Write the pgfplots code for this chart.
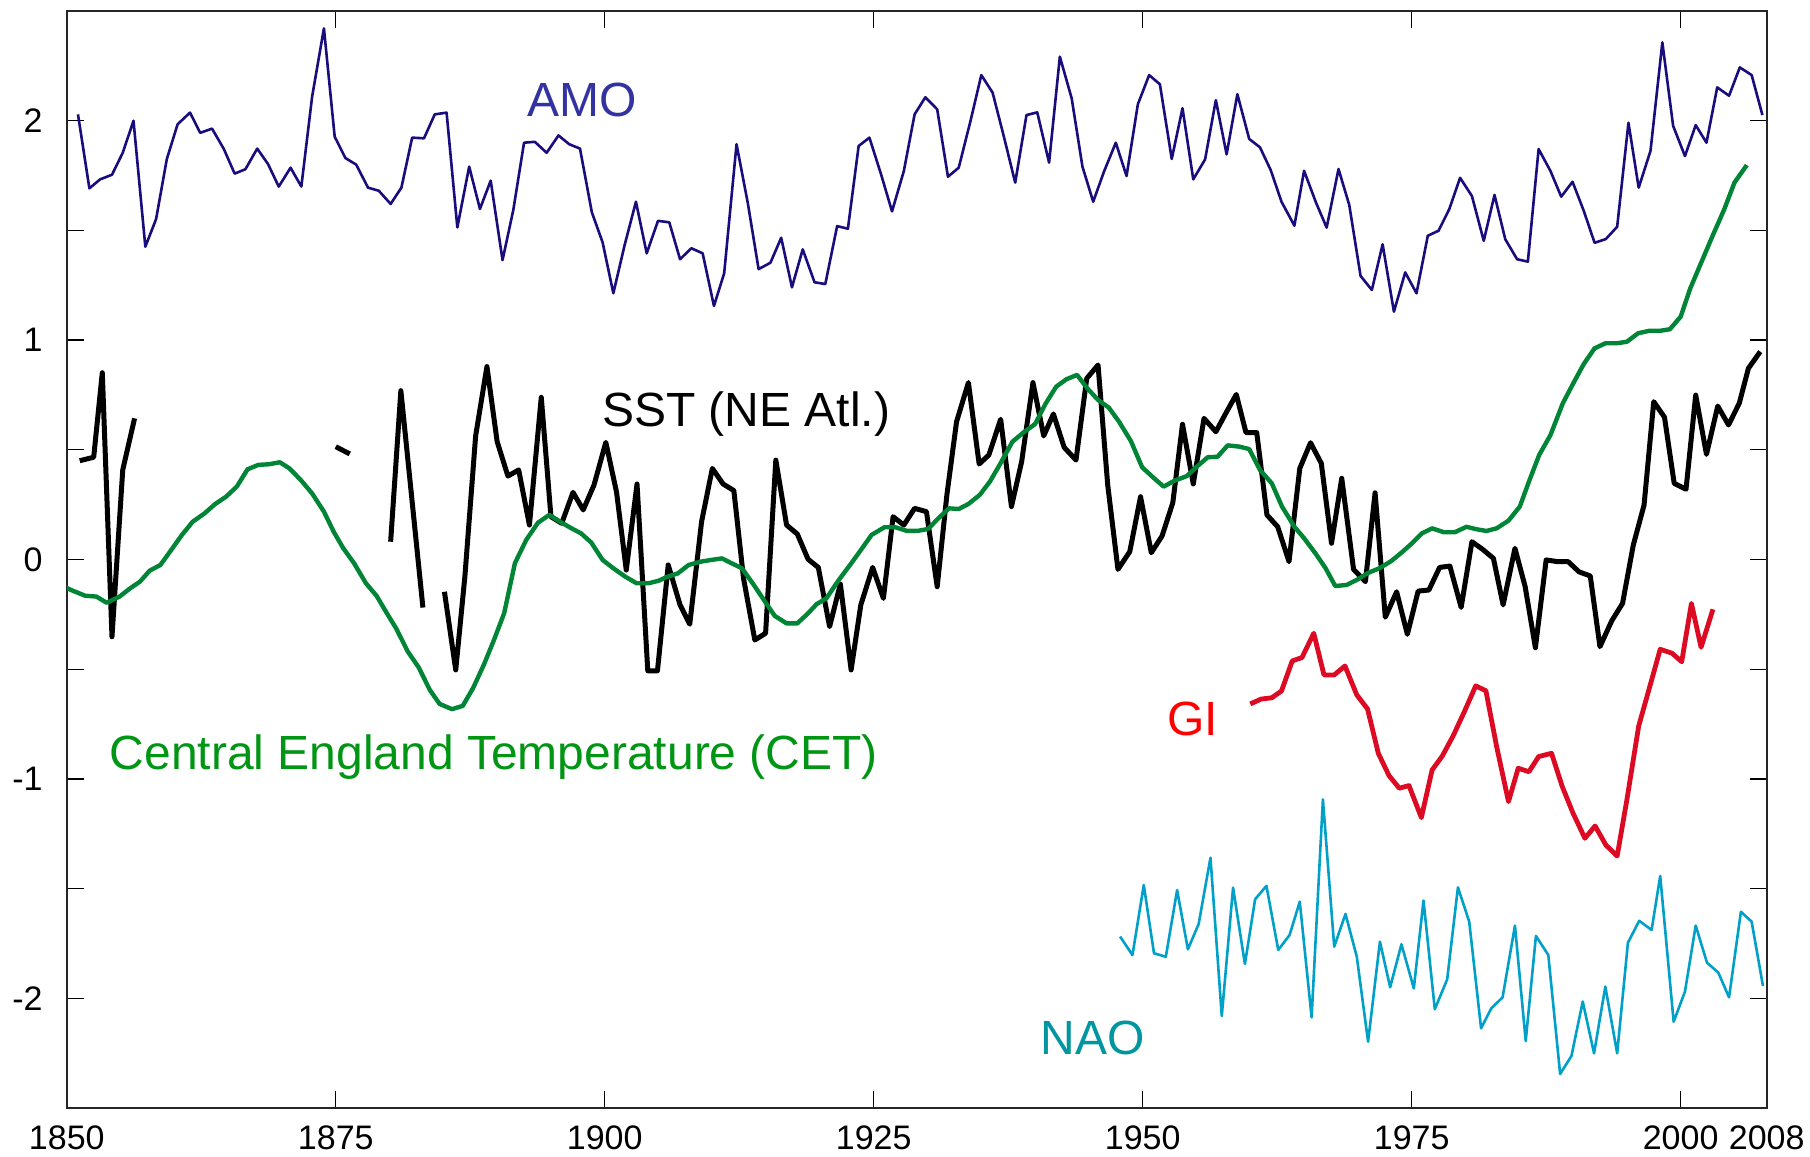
\documentclass[border=0pt]{standalone}
\usepackage{pgfplots}
\pgfplotsset{compat=1.18}
\usepackage{fontspec}
\setmainfont{Liberation Sans}
\definecolor{amoline}{RGB}{25,12,125}
\definecolor{amotext}{RGB}{50,50,160}
\definecolor{cetline}{RGB}{0,133,55}
\definecolor{cettext}{RGB}{0,150,20}
\definecolor{giline}{RGB}{220,10,35}
\definecolor{gitext}{RGB}{255,0,0}
\definecolor{naoline}{RGB}{0,160,200}
\definecolor{naotext}{RGB}{0,150,160}
\begin{document}
\begin{tikzpicture}
\begin{axis}[
  scale only axis, width=850pt, height=548.75pt,
  xmin=1850, xmax=2008, ymin=-2.5, ymax=2.5,
  axis line style={black!85, line width=1pt},
  xtick={1850,1875,1900,1925,1950,1975,2000,2008},
  xticklabels={1850,1875,1900,1925,1950,1975,2000,2008},
  ytick={-2,-1,0,1,2}, yticklabels={-2,-1,0,1,2},
  minor ytick={-1.5,-0.5,0.5,1.5},
  tick align=inside, tick pos=both,
  major tick length=8.5pt, minor tick length=8.5pt,
  every tick/.style={black, line width=0.6pt},
  xticklabel style={anchor=north, inner sep=0pt, yshift=-8.4pt, font=\fontsize{17}{19}\selectfont},
  yticklabel style={anchor=east, inner sep=0pt, xshift=-11.9pt, font=\fontsize{17}{19}\selectfont},
  clip=true,
]
% AMO
\addplot[amoline, line width=1.3pt, line join=round, no marks] coordinates {
(1851.04,2.028) (1852.1,1.691) (1853.1,1.732) (1854.2,1.753) (1855.2,1.853) (1856.2,1.999)
(1857.3,1.425) (1858.3,1.551) (1859.3,1.825) (1860.3,1.983) (1861.45,2.036) (1862.4,1.944)
(1863.5,1.963) (1864.6,1.870) (1865.6,1.758) (1866.6,1.778) (1867.7,1.872) (1868.7,1.802)
(1869.7,1.699) (1870.8,1.785) (1871.8,1.699) (1872.8,2.108) (1873.9,2.420) (1874.9,1.926)
(1875.9,1.829) (1876.9,1.799) (1878.0,1.694) (1879.0,1.680) (1880.1,1.620) (1881.1,1.694)
(1882.1,1.922) (1883.2,1.919) (1884.2,2.028) (1885.3,2.036) (1886.3,1.513) (1887.4,1.790)
(1888.4,1.597) (1889.4,1.726) (1890.5,1.364) (1891.5,1.592) (1892.5,1.899) (1893.5,1.903)
(1894.6,1.853) (1895.7,1.932) (1896.7,1.892) (1897.7,1.872) (1898.8,1.582) (1899.8,1.445)
(1900.8,1.213) (1901.85,1.433) (1902.9,1.630) (1903.9,1.395) (1904.95,1.543) (1906.0,1.536)
(1907.0,1.368) (1908.05,1.418) (1909.1,1.395) (1910.15,1.155) (1911.1,1.304) (1912.25,1.892)
(1913.3,1.623) (1914.3,1.323) (1915.4,1.352) (1916.4,1.466) (1917.4,1.240) (1918.4,1.413)
(1919.5,1.263) (1920.5,1.255) (1921.6,1.519) (1922.6,1.507) (1923.6,1.884) (1924.6,1.922)
(1925.7,1.752) (1926.7,1.586) (1927.8,1.770) (1928.8,2.028) (1929.8,2.106) (1930.9,2.051)
(1931.9,1.744) (1932.9,1.785) (1934.0,1.999) (1935.0,2.207) (1936.05,2.127) (1937.1,1.926)
(1938.15,1.717) (1939.2,2.025) (1940.2,2.037) (1941.3,1.808) (1942.3,2.291) (1943.4,2.101)
(1944.4,1.790) (1945.4,1.630) (1946.4,1.767) (1947.5,1.899) (1948.5,1.747) (1949.55,2.074)
(1950.6,2.207) (1951.6,2.165) (1952.7,1.825) (1953.7,2.056) (1954.7,1.732) (1955.8,1.823)
(1956.8,2.093) (1957.8,1.846) (1958.8,2.120) (1959.9,1.916) (1960.9,1.878) (1961.9,1.774)
(1962.9,1.630) (1964.1,1.521) (1965.0,1.771) (1966.1,1.627) (1967.1,1.512) (1968.2,1.779)
(1969.2,1.615) (1970.25,1.292) (1971.3,1.228) (1972.3,1.436) (1973.35,1.129) (1974.4,1.308)
(1975.45,1.213) (1976.5,1.475) (1977.5,1.498) (1978.5,1.597) (1979.5,1.739) (1980.6,1.656)
(1981.7,1.452) (1982.7,1.661) (1983.7,1.459) (1984.8,1.368) (1985.8,1.357) (1986.8,1.870)
(1987.9,1.770) (1988.9,1.653) (1989.95,1.721) (1991.0,1.588) (1992.0,1.443) (1993.05,1.460)
(1994.1,1.516) (1995.15,1.990) (1996.1,1.694) (1997.2,1.862) (1998.3,2.356) (1999.3,1.976)
(2000.4,1.838) (2001.4,1.979) (2002.4,1.899) (2003.4,2.151) (2004.5,2.113) (2005.5,2.242)
(2006.6,2.207) (2007.6,2.025)
};
% SST segments
\addplot[black, line width=2.5pt, line join=round, no marks] coordinates {
(1851.2,0.450) (1852.5,0.466) (1853.3,0.851) (1854.2,-0.352) (1855.2,0.408) (1856.3,0.643)
};
\addplot[black, line width=2.5pt, line join=round, no marks] coordinates {
(1875.0,0.514) (1876.3,0.481)
};
\addplot[black, line width=2.5pt, line join=round, no marks] coordinates {
(1880.1,0.081) (1881.05,0.769) (1883.1,-0.219)
};
\addplot[black, line width=2.5pt, line join=round, no marks] coordinates {
(1885.1,-0.147) (1886.15,-0.503) (1887.0,-0.078) (1888.0,0.563) (1889.05,0.879) (1890.0,0.537)
(1891.0,0.380) (1892.0,0.408) (1893.0,0.157) (1894.1,0.739) (1895.0,0.195) (1896.0,0.165)
(1897.05,0.306) (1898.0,0.226) (1899.0,0.339) (1900.1,0.534) (1901.1,0.306) (1902.0,-0.048)
(1903.0,0.344) (1904.0,-0.507) (1904.9,-0.507) (1905.9,-0.025) (1907.0,-0.207) (1907.9,-0.295)
(1909.0,0.172) (1910.0,0.415) (1911.0,0.344) (1912.0,0.314) (1912.9,-0.086) (1913.95,-0.367)
(1914.95,-0.336) (1915.9,0.453) (1916.9,0.157) (1917.9,0.116) (1918.9,0.001) (1919.85,-0.036)
(1920.9,-0.306) (1921.9,-0.112) (1922.9,-0.503) (1923.8,-0.207) (1924.9,-0.036) (1925.9,-0.177)
(1926.8,0.195) (1927.8,0.157) (1928.8,0.233) (1929.9,0.218) (1930.9,-0.124) (1931.8,0.294)
(1932.7,0.628) (1933.8,0.806) (1934.8,0.435) (1935.7,0.476) (1936.8,0.639) (1937.8,0.241)
(1938.75,0.446) (1939.8,0.806) (1940.8,0.563) (1941.7,0.663) (1942.7,0.511) (1943.8,0.453)
(1944.8,0.825) (1945.85,0.886) (1946.75,0.339) (1947.7,-0.045) (1948.8,0.036) (1949.8,0.286)
(1950.8,0.031) (1951.8,0.107) (1952.8,0.259) (1953.7,0.616) (1954.7,0.344) (1955.7,0.643)
(1956.8,0.582) (1957.8,0.673) (1958.7,0.752) (1959.6,0.578) (1960.6,0.578) (1961.55,0.203)
(1962.55,0.149) (1963.6,-0.010) (1964.6,0.415) (1965.6,0.532) (1966.6,0.438) (1967.55,0.074)
(1968.5,0.370) (1969.6,-0.045) (1970.7,-0.101) (1971.6,0.304) (1972.55,-0.263) (1973.6,-0.147)
(1974.6,-0.341) (1975.6,-0.144) (1976.6,-0.139) (1977.6,-0.036) (1978.55,-0.030) (1979.6,-0.218)
(1980.6,0.081) (1981.6,0.046) (1982.6,0.005) (1983.5,-0.207) (1984.6,0.051) (1985.55,-0.124)
(1986.5,-0.402) (1987.5,-0.002) (1988.6,-0.010) (1989.55,-0.010) (1990.55,-0.056) (1991.6,-0.075)
(1992.5,-0.397) (1993.6,-0.279) (1994.6,-0.200) (1995.6,0.066) (1996.6,0.248) (1997.5,0.719)
(1998.5,0.648) (1999.4,0.347) (2000.5,0.320) (2001.4,0.749) (2002.4,0.479) (2003.45,0.699)
(2004.45,0.613) (2005.45,0.712) (2006.3,0.871) (2007.4,0.947)
};
% CET
\addplot[cetline, line width=2.2pt, line join=round, no marks] coordinates {
(1849.9,-0.127) (1850.4,-0.139) (1851.7,-0.165) (1852.75,-0.169) (1853.7,-0.197) (1854.9,-0.169)
(1855.9,-0.131) (1856.8,-0.101) (1857.7,-0.051) (1858.7,-0.025) (1859.7,0.043) (1860.7,0.112)
(1861.7,0.172) (1862.8,0.210) (1863.8,0.253) (1864.8,0.286) (1865.8,0.332) (1866.8,0.411)
(1867.8,0.431) (1868.8,0.434) (1869.8,0.443) (1870.7,0.415) (1871.75,0.362) (1872.8,0.301)
(1873.9,0.218) (1874.8,0.127) (1875.7,0.051) (1876.7,-0.017) (1877.8,-0.108) (1878.8,-0.166)
(1879.75,-0.245) (1880.6,-0.313) (1881.7,-0.420) (1882.7,-0.491) (1883.75,-0.595) (1884.65,-0.658)
(1885.8,-0.682) (1886.8,-0.667) (1887.75,-0.587) (1888.75,-0.481) (1889.7,-0.367) (1890.65,-0.245)
(1891.65,-0.017) (1892.7,0.089) (1893.8,0.168) (1894.85,0.203) (1895.85,0.172) (1896.8,0.145)
(1897.8,0.119) (1898.75,0.077) (1899.8,-0.002) (1900.8,-0.040) (1901.9,-0.078) (1902.95,-0.108)
(1904.1,-0.108) (1905.0,-0.097) (1905.7,-0.081) (1906.8,-0.063) (1907.8,-0.025) (1908.9,-0.010)
(1909.9,-0.002) (1910.9,0.005) (1911.7,-0.015) (1912.75,-0.040) (1913.8,-0.112) (1914.8,-0.185)
(1915.8,-0.257) (1916.9,-0.291) (1917.9,-0.291) (1918.9,-0.245) (1919.7,-0.203) (1920.6,-0.177)
(1921.7,-0.097) (1922.8,-0.025) (1923.8,0.043) (1924.8,0.112) (1926.0,0.147) (1927.0,0.147)
(1928.1,0.130) (1929.15,0.131) (1930.05,0.139) (1931.1,0.192) (1932.0,0.233) (1932.9,0.230)
(1933.8,0.253) (1934.85,0.294) (1935.8,0.355) (1936.7,0.431) (1937.9,0.537) (1938.9,0.578)
(1940.0,0.617) (1940.95,0.708) (1941.95,0.787) (1942.9,0.821) (1943.9,0.841) (1944.85,0.780)
(1945.85,0.727) (1946.85,0.692) (1947.8,0.628) (1948.9,0.540) (1949.95,0.420) (1950.9,0.377)
(1951.95,0.332) (1952.95,0.359) (1954.1,0.380) (1955.1,0.426) (1956.05,0.466) (1956.95,0.468)
(1957.9,0.520) (1959.0,0.514) (1959.9,0.503) (1960.9,0.408) (1962.0,0.347) (1962.95,0.241)
(1964.1,0.149) (1965.0,0.097) (1966.1,0.025) (1967.0,-0.040) (1967.9,-0.121) (1968.95,-0.116)
(1969.9,-0.093) (1971.0,-0.060) (1972.0,-0.040) (1973.1,-0.007) (1974.1,0.033) (1975.1,0.077)
(1975.95,0.119) (1976.9,0.142) (1978.0,0.124) (1979.0,0.124) (1980.1,0.149) (1981.0,0.138)
(1981.95,0.130) (1982.9,0.142) (1984.0,0.177) (1985.05,0.241) (1985.9,0.355) (1986.85,0.476)
(1987.9,0.567) (1989.05,0.712) (1990.1,0.810) (1991.0,0.891) (1992.0,0.962) (1993.0,0.985)
(1994.05,0.985) (1995.0,0.992) (1996.05,1.031) (1997.1,1.042) (1998.1,1.042) (1999.0,1.049)
(2000.0,1.106) (2000.9,1.236) (2001.95,1.357) (2003.0,1.478) (2004.05,1.595) (2005.0,1.717)
(2006.15,1.797)
};
% GI
\addplot[giline, line width=2.4pt, line join=round, no marks] coordinates {
(1960.0,-0.658) (1961.0,-0.636) (1962.0,-0.630) (1962.9,-0.599) (1963.9,-0.462) (1964.8,-0.447)
(1965.9,-0.336) (1966.85,-0.526) (1967.8,-0.526) (1968.8,-0.485) (1969.9,-0.617) (1970.9,-0.681)
(1971.9,-0.883) (1972.9,-0.985) (1973.85,-1.042) (1974.75,-1.030) (1975.9,-1.176) (1976.9,-0.959)
(1977.85,-0.895) (1978.85,-0.804) (1979.9,-0.693) (1980.95,-0.576) (1981.9,-0.598) (1982.9,-0.853)
(1984.0,-1.103) (1984.9,-0.951) (1985.9,-0.967) (1986.8,-0.898) (1988.0,-0.883) (1989.0,-1.035)
(1990.0,-1.156) (1991.1,-1.270) (1992.05,-1.214) (1993.05,-1.301) (1994.1,-1.351) (1995.0,-1.096)
(1996.1,-0.759) (1997.0,-0.602) (1998.1,-0.409) (1999.2,-0.427) (2000.1,-0.466) (2001.0,-0.200)
(2001.9,-0.400) (2003.0,-0.227)
};
% NAO
\addplot[naoline, line width=1.3pt, line join=round, no marks] coordinates {
(1947.9,-1.718) (1949.05,-1.802) (1950.1,-1.483) (1951.05,-1.794) (1952.15,-1.810) (1953.2,-1.506)
(1954.2,-1.776) (1955.2,-1.661) (1956.3,-1.359) (1957.35,-2.080) (1958.4,-1.495) (1959.5,-1.843)
(1960.45,-1.548) (1961.5,-1.487) (1962.6,-1.779) (1963.65,-1.711) (1964.6,-1.559) (1965.7,-2.086)
(1966.75,-1.093) (1967.8,-1.764) (1968.85,-1.615) (1969.9,-1.810) (1970.95,-2.197) (1972.05,-1.741)
(1973.0,-1.949) (1974.05,-1.753) (1975.2,-1.954) (1976.1,-1.554) (1977.15,-2.049) (1978.3,-1.913)
(1979.3,-1.494) (1980.35,-1.650) (1981.45,-2.136) (1982.4,-2.045) (1983.45,-1.995) (1984.6,-1.668)
(1985.6,-2.194) (1986.55,-1.715) (1987.7,-1.802) (1988.8,-2.344) (1989.85,-2.262) (1990.9,-2.014)
(1991.95,-2.250) (1993.0,-1.946) (1994.1,-2.250) (1995.1,-1.746) (1996.15,-1.646) (1997.3,-1.688)
(1998.1,-1.442) (1999.35,-2.106) (2000.4,-1.969) (2001.4,-1.668) (2002.45,-1.837) (2003.5,-1.882)
(2004.5,-1.995) (2005.6,-1.605) (2006.6,-1.650) (2007.65,-1.943)
};
% Labels
\node[anchor=base, inner sep=0pt, text=amotext, font=\fontsize{24}{28}\selectfont] at (axis cs:1897.87,2.017) {AMO};
\node[anchor=base, inner sep=0pt, text=black, font=\fontsize{24}{28}\selectfont] at (axis cs:1913.13,0.604) {SST (NE Atl.)};
\node[anchor=base, inner sep=0pt, text=cettext, font=\fontsize{24}{28}\selectfont] at (axis cs:1889.70,-0.956) {Central England Temperature (CET)};
\node[anchor=base, inner sep=0pt, text=gitext, font=\fontsize{24}{28}\selectfont] at (axis cs:1954.64,-0.800) {GI};
\node[anchor=base, inner sep=0pt, text=naotext, font=\fontsize{24}{28}\selectfont] at (axis cs:1945.36,-2.253) {NAO};
\end{axis}
\pgfresetboundingbox
\path ([shift={(-33.4pt,-23.9pt)}]current axis.south west) rectangle ([shift={(21.65pt,5.4pt)}]current axis.north east);
\end{tikzpicture}
\end{document}
